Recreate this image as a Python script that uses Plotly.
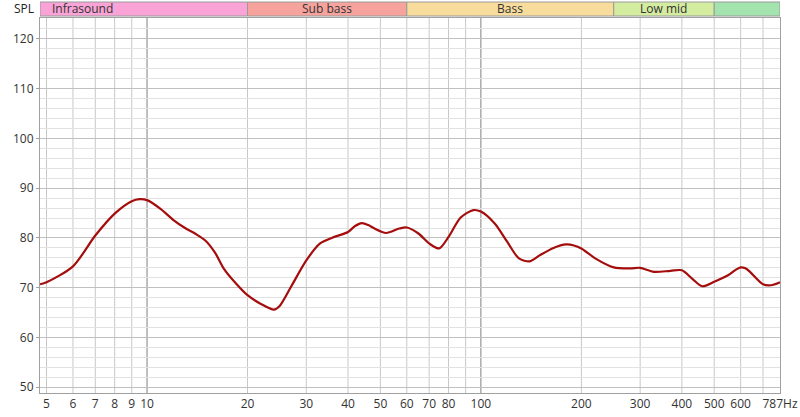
import numpy as np
import plotly.graph_objects as go

freq = [4.78, 5, 6, 7, 8, 9, 9.5, 10, 11, 12, 13, 14, 15, 16, 17, 18.5, 20, 22, 24, 25, 27, 30, 33, 36, 40,
        42, 44, 46, 48, 52, 57, 60,
        65, 70, 75, 80, 87, 95, 100, 110, 120, 130, 140, 150, 165, 180, 190, 200, 220, 250, 280, 300,
        330, 370, 400, 430, 460, 500, 550, 580, 600, 620, 640, 700, 740, 787]
spl = [70.7, 71.1, 74.3, 80.5, 84.9, 87.4, 87.8, 87.6, 85.8, 83.6, 82.0, 80.8, 79.4, 77.0, 73.8, 70.8, 68.5,
       66.7, 65.6, 66.4, 70.2, 75.5, 78.9, 80.1, 81.2,
       82.4, 83.0, 82.6, 81.9, 81.0, 81.9, 82.1, 80.9, 78.9, 77.9, 80.2, 84.1, 85.6, 85.3,
       82.9, 79.2, 75.9, 75.3, 76.5, 78.0, 78.7, 78.5, 77.9, 75.9, 74.1, 73.9, 74.0, 73.2, 73.4, 73.5,
       71.8, 70.3, 71.2, 72.5, 73.6, 74.1, 73.9, 73.2, 70.7, 70.5, 71.1]

x_ticks = [5, 6, 7, 8, 9, 10, 20, 30, 40, 50, 60, 70, 80, 100, 200, 300, 400, 500, 600, 787]
x_tick_text = ["5", "6", "7", "8", "9", "10", "20", "30", "40", "50", "60", "70", "80", "100",
               "200", "300", "400", "500", "600", "787Hz"]
x_grid = [5, 6, 7, 8, 9, 10, 20, 30, 40, 50, 60, 70, 80, 90, 100, 200, 300, 400, 500, 600, 700]
y_ticks = [50, 60, 70, 80, 90, 100, 110, 120]

band_names = ["Infrasound", "Sub bass", "Bass", "Low mid", ""]
band_edges = [4.78, 20, 60, 250, 500, 787]
band_colors = ["#f9a3d6", "#f7a39d", "#f8dc9b", "#d4eca0", "#a3e3ad"]

x_range = [np.log10(4.78), np.log10(787)]
y_range = [48.85, 124.2]

fig = go.Figure()
fig.add_trace(go.Scatter(x=freq, y=spl, mode="lines",
                         line=dict(color="#a50d0d", width=2.2, shape="spline", smoothing=0.8),
                         hoverinfo="skip", showlegend=False))

shapes = []
for xv in x_grid:
    dark = xv in (10, 100)
    shapes.append(dict(type="line", xref="x", yref="paper", x0=xv, x1=xv, y0=0, y1=1,
                       line=dict(color="#808080" if dark else "#c8c8c8", width=1), layer="below"))

plot_h = 393 - 18
b0 = 1 + (18 - 16) / plot_h
b1 = 1 + (18 - 2) / plot_h
annotations = []
for i, name in enumerate(band_names):
    shapes.append(dict(type="rect", xref="x", yref="paper", x0=band_edges[i], x1=band_edges[i + 1],
                       y0=b0, y1=b1, fillcolor=band_colors[i], line=dict(color="#9a9a9a", width=1)))
    if not name:
        continue
    if i == 0:
        # band starts off-screen: label is pinned to the left edge
        annotations.append(dict(x=10 / 740, xref="paper", xanchor="left", y=(b0 + b1) / 2, yref="paper",
                                yanchor="middle", text=name,
                                showarrow=False, font=dict(size=12, color="#333333", family="Open Sans")))
    else:
        xc = 10 ** ((np.log10(band_edges[i]) + np.log10(band_edges[i + 1])) / 2)
        annotations.append(dict(x=np.log10(xc), xref="x", y=(b0 + b1) / 2, yref="paper",
                                yanchor="middle", text=name,
                                showarrow=False, font=dict(size=12, color="#333333", family="Open Sans")))
annotations.append(dict(x=-0.006, xref="paper", xanchor="right", y=(b0 + b1) / 2, yref="paper",
                        yanchor="middle", text="SPL", showarrow=False,
                        font=dict(size=12, color="#222222", family="Open Sans")))

fig.update_layout(
    width=800, height=417,
    margin=dict(l=40, r=20, t=18, b=24, autoexpand=False),
    paper_bgcolor="white", plot_bgcolor="white",
    shapes=shapes, annotations=annotations,
    xaxis=dict(type="log", range=x_range, tickvals=x_ticks, ticktext=x_tick_text, automargin=False,
               showgrid=False, zeroline=False, showline=True, linecolor="#a0a0a0", mirror=True,
               ticks="", tickfont=dict(size=12, color="#333333", family="Open Sans")),
    yaxis=dict(range=y_range, tickvals=y_ticks, showgrid=True, gridcolor="#c0c0c0", gridwidth=1,
               automargin=False,
               zeroline=False, showline=True, linecolor="#a0a0a0", mirror=True,
               ticks="outside", ticklen=3, tickcolor="#a0a0a0",
               tickfont=dict(size=12, color="#333333", family="Open Sans"),
               minor=dict(dtick=2, tick0=0, showgrid=True, gridcolor="#e2e2e2", gridwidth=1)),
)

fig.write_html("out.html", config={"displayModeBar": False},
               post_script="document.body.style.margin='0px';document.body.style.overflow='hidden';")
